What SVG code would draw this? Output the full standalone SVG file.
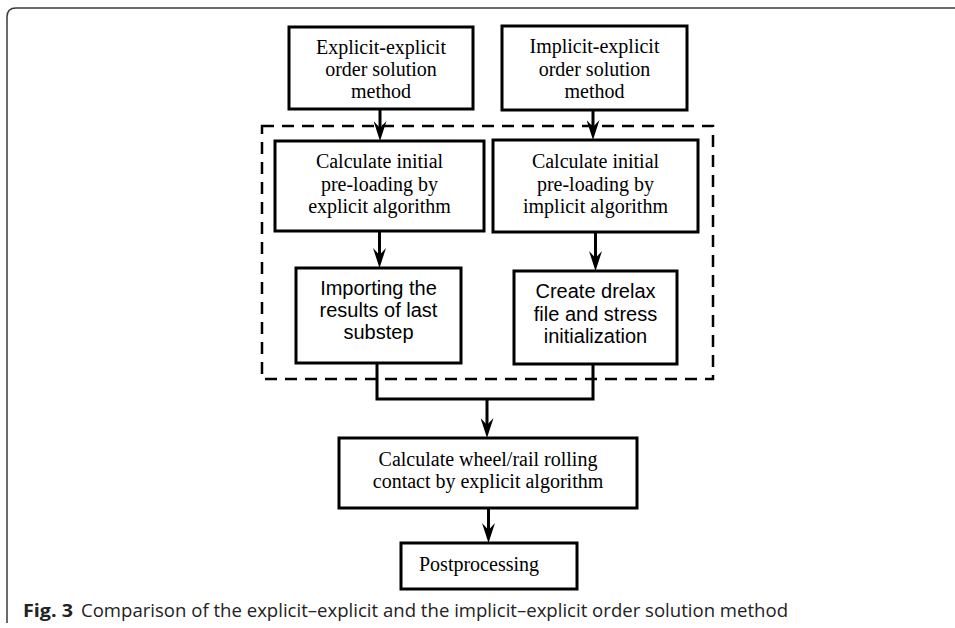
<svg xmlns="http://www.w3.org/2000/svg" width="955" height="628" viewBox="0 0 955 628">
<style>
.box{fill:#fff;stroke:#000;stroke-width:3}
.serif{font-family:"Liberation Serif","Times New Roman",serif;font-size:20px;fill:#000;text-anchor:middle}
.sans{font-family:"Liberation Sans",Arial,sans-serif;font-size:20px;fill:#000;text-anchor:middle}
.conn{fill:none;stroke:#000;stroke-width:3}
.dash{fill:none;stroke:#000;stroke-width:2.5;stroke-dasharray:12 8}
.cap{font-family:"Open Sans","Noto Sans",sans-serif;font-size:18px;fill:#222}
</style>
<defs>
<marker id="ah" viewBox="0 0 20 13" refX="13" refY="6.5" markerWidth="20" markerHeight="13" markerUnits="userSpaceOnUse" orient="auto">
<path d="M0,0 L20,6.5 L0,13 L7,6.5 Z" fill="#000"/>
</marker>
</defs>
<rect width="955" height="628" fill="#fff"/>
<path d="M7,623 L7,17 Q7,8 16,8 L955,8" fill="none" stroke="#3a3a3a" stroke-width="1.5"/>
<g id="group-box">
<rect class="dash" x="262" y="126" width="451" height="253"/>
</g>
<g id="connectors">
<line class="conn" x1="380" y1="109" x2="380" y2="134" marker-end="url(#ah)"/>
<line class="conn" x1="593" y1="110" x2="593" y2="133" marker-end="url(#ah)"/>
<line class="conn" x1="379.5" y1="231" x2="379.5" y2="261" marker-end="url(#ah)"/>
<line class="conn" x1="595.5" y1="232" x2="595.5" y2="264" marker-end="url(#ah)"/>
<path class="conn" d="M377,363 V399 H593 V364"/>
<line class="conn" x1="487" y1="399" x2="487" y2="431" marker-end="url(#ah)"/>
<line class="conn" x1="488.5" y1="508" x2="488.5" y2="536" marker-end="url(#ah)"/>
</g>
<g id="n1">
<rect class="box" x="289" y="27" width="184" height="82"/>
<text class="serif" x="381" y="54">Explicit-explicit</text>
<text class="serif" x="381" y="76">order solution</text>
<text class="serif" x="381" y="98">method</text>
</g>
<g id="n2">
<rect class="box" x="502" y="26" width="185" height="84"/>
<text class="serif" x="594.5" y="53">Implicit-explicit</text>
<text class="serif" x="594.5" y="75.5">order solution</text>
<text class="serif" x="594.5" y="97.5">method</text>
</g>
<g id="n3">
<rect class="box" x="275" y="141" width="209" height="90"/>
<text class="serif" x="379.5" y="168">Calculate initial</text>
<text class="serif" x="379.5" y="190.5">pre-loading by</text>
<text class="serif" x="379.5" y="212.5">explicit algorithm</text>
</g>
<g id="n4">
<rect class="box" x="493" y="140" width="205" height="92"/>
<text class="serif" x="595.5" y="167.5">Calculate initial</text>
<text class="serif" x="595.5" y="190.5">pre-loading by</text>
<text class="serif" x="595.5" y="212.5">implicit algorithm</text>
</g>
<g id="n5">
<rect class="box" x="296" y="268" width="165" height="95"/>
<text class="sans" x="378.5" y="295">Importing the</text>
<text class="sans" x="378.5" y="317">results of last</text>
<text class="sans" x="378.5" y="339">substep</text>
</g>
<g id="n6">
<rect class="box" x="514" y="271" width="163" height="93"/>
<text class="sans" x="595.5" y="297.5">Create drelax</text>
<text class="sans" x="595.5" y="320.5">file and stress</text>
<text class="sans" x="595.5" y="343">initialization</text>
</g>
<g id="n7">
<rect class="box" x="339" y="438" width="298" height="70"/>
<text class="serif" x="488" y="465.5">Calculate wheel/rail rolling</text>
<text class="serif" x="488" y="487.5">contact by explicit algorithm</text>
</g>
<g id="n8">
<rect class="box" x="401" y="543" width="176" height="46"/>
<text class="serif" x="419" y="570.5" style="text-anchor:start">Postprocessing</text>
</g>
<g id="caption">
<text class="cap" x="23" y="617" font-weight="bold" textLength="50" lengthAdjust="spacingAndGlyphs">Fig. 3</text>
<text class="cap" x="81" y="617" textLength="707" lengthAdjust="spacingAndGlyphs">Comparison of the explicit–explicit and the implicit–explicit order solution method</text>
</g>
</svg>
